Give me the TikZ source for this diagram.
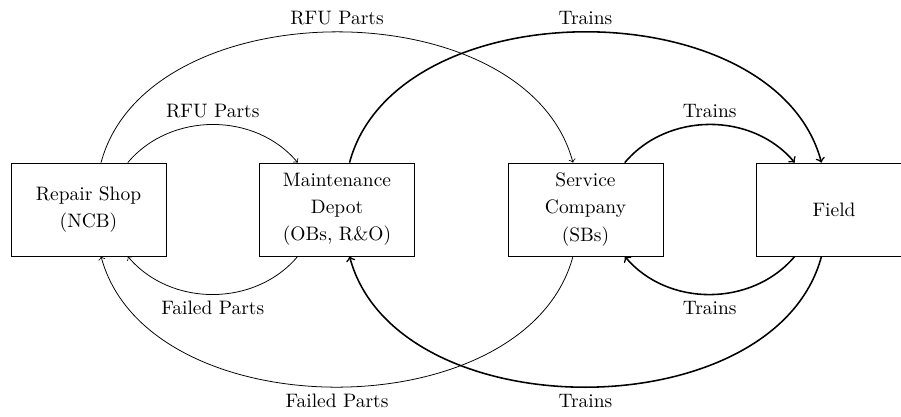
\documentclass[tikz,border=0pt]{standalone}
\begin{document}
\begin{tikzpicture}[x=0.514pt, y=-0.514pt,
  station/.style={draw, rectangle, minimum width=155*0.514pt,
    minimum height=93*0.514pt, align=center, inner sep=0pt,
    font=\fontsize{10}{14}\selectfont},
  partflow/.style={->},
  trainflow/.style={->, thick},
  near/.style={bend left=50, looseness=1},
  far/.style={bend left=75, looseness=0.98}]
\useasboundingbox (0,0) rectangle (901,416);

% stations
\node[station] (shop)    at (88.5,209.5) {Repair Shop\\(NCB)};
\node[station] (depot)   at (337,209.5)  {Maintenance\\Depot\\(OBs, R\&O)};
\node[station] (service) at (585.5,209.5){Service\\Company\\(SBs)};
\node[station] (field)   at (834,209.5)  {Field};

% parts between neighbours
\draw[partflow] (shop)  to[near] node[above] {RFU Parts}    (depot);
\draw[partflow] (depot) to[near] node[below] {Failed Parts} (shop);

% parts across the depot
\draw[partflow] (shop)    to[far] node[above] {RFU Parts}    (service);
\draw[partflow] (service) to[far] node[below] {Failed Parts} (shop);

% trains between neighbours
\draw[trainflow] (service) to[near] node[above] {Trains} (field);
\draw[trainflow] (field)   to[near] node[below] {Trains} (service);

% trains across the service company
\draw[trainflow] (depot) to[far] node[above] {Trains} (field);
\draw[trainflow] (field) to[far] node[below] {Trains} (depot);
\end{tikzpicture}
\end{document}
